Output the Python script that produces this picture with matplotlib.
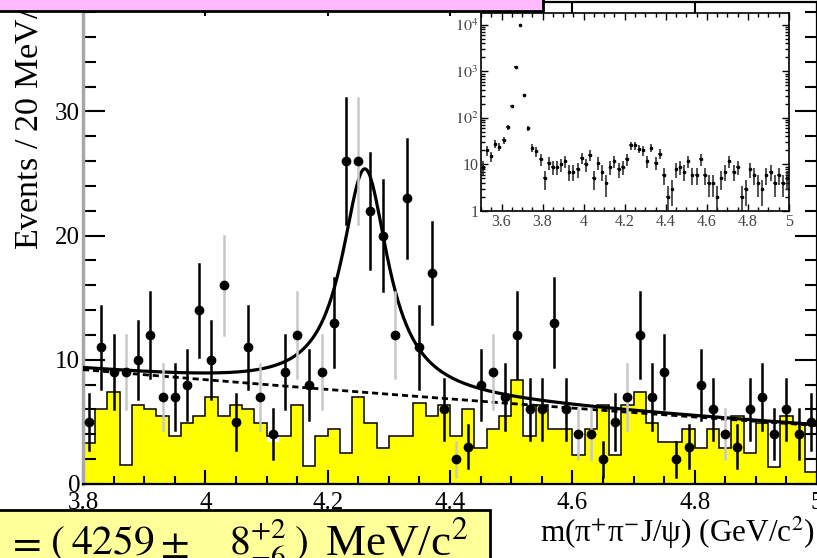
#!/usr/bin/env python
#-*-coding:utf-8-*-
import numpy as np
import matplotlib
matplotlib.use('Agg')
import matplotlib.pyplot as plt
from matplotlib.patches import Rectangle
from matplotlib.ticker import MultipleLocator, FixedLocator, LogLocator, NullFormatter

plt.rcParams['font.family'] = ['Liberation Serif', 'DejaVu Serif']
plt.rcParams['mathtext.fontset'] = 'stix'

W, H = 817, 558

# events per 20 MeV bin, 3.80 - 5.00 GeV
data_counts = [5, 11, 9, 9, 10, 12, 7, 7, 8, 14,
               10, 16, 5, 11, 7, 4, 9, 12, 8, 9,
               13, 26, 26, 22, 20, 12, 23, 11, 17, 6,
               2, 3, 8, 9, 7, 12, 6, 6, 13, 6,
               4, 4, 2, 5, 7, 12, 7, 9, 2, 3,
               8, 6, 4, 3, 6, 7, 4, 6, 4, 5]
# J/psi sideband histogram (outline and fill)
bkg_line = [3.3, 6.0, 7.4, 1.5, 6.4, 6.0, 5.5, 3.9, 4.9, 5.5,
            7.0, 5.5, 6.4, 6.0, 4.9, 3.9, 3.9, 6.4, 1.45, 3.9,
            4.4, 2.5, 7.0, 4.9, 2.9, 3.9, 3.9, 6.5, 5.5, 6.4,
            3.9, 6.0, 2.9, 4.4, 5.5, 8.4, 3.9, 6.4, 4.4, 4.4,
            2.3, 4.4, 6.4, 2.3, 6.4, 7.4, 4.9, 3.4, 3.4, 4.4,
            2.9, 4.4, 2.9, 5.5, 2.5, 4.9, 1.4, 5.5, 4.9, 1.0]
bkg_fill = [3.3, 6.0, 7.4, 1.5, 6.4, 6.0, 5.5, 3.9, 4.9, 5.5,
            7.0, 5.5, 6.4, 6.0, 4.9, 3.4, 3.9, 6.4, 1.45, 3.9,
            4.4, 2.5, 7.0, 4.9, 2.9, 3.9, 3.9, 6.5, 5.5, 6.4,
            3.9, 6.0, 2.9, 4.4, 5.5, 8.4, 3.9, 6.4, 4.4, 4.4,
            2.3, 4.4, 6.4, 2.3, 6.4, 7.4, 4.9, 3.4, 3.4, 4.4,
            2.9, 4.4, 2.9, 5.5, 2.5, 4.9, 1.4, 5.5, 4.9, 1.0]
# inset: bins 3.50 - 3.80 (psi(2S) region), rest same as main
inset_low = [9, 20, 15, 28, 24, 33, 63, 180, 1260, 10000, 310, 60, 23, 19, 13]

# fit result: Breit-Wigner + 2nd order polynomial background
bw_mass = 4.261
bw_width = 0.092
bw_peak = 18.0
bg_c0, bg_c1, bg_c2, bg_ref = 6.85, -3.75, 0.3, 4.4

xtick_vals = [3.8, 4.0, 4.2, 4.4, 4.6, 4.8, 5.0]
xtick_labels = ['3.8', '4', '4.2', '4.4', '4.6', '4.8', '5']
ins_xtick_vals = [3.6, 3.8, 4.0, 4.2, 4.4, 4.6, 4.8, 5.0]
ins_xtick_labels = ['3.6', '3.8', '4', '4.2', '4.4', '4.6', '4.8', '5']
ins_ytick_vals = [1, 10, 100, 1000, 10000]
ins_ytick_labels = ['1', '10', '$10^2$', '$10^3$', '$10^4$']

gray_bins = [3, 6, 11, 14, 17, 19, 22, 25, 30, 33, 40, 41, 44, 52]

edges = np.round(np.arange(3.80, 5.0001, 0.02), 3)
centers = edges[:-1] + 0.01
counts = np.array(data_counts, dtype=float)

fig = plt.figure(figsize=(W / 100.0, H / 100.0), dpi=100)
fig.patch.set_facecolor('white')

ax = fig.add_axes([83.0 / W, 1 - 484.0 / H, 734.0 / W, 482.5 / H])
ax.set_xlim(3.8, 5.0)
ax.set_ylim(0, 38.85)

ax.stairs(bkg_fill, edges, fill=True, color='#ffff00', zorder=1)
ax.stairs(bkg_line, edges, color='black', lw=1.1, zorder=2)

m = np.linspace(3.8, 5.0, 800)
bg = bg_c0 + bg_c1 * (m - bg_ref) + bg_c2 * (m - bg_ref) ** 2
g2 = (bw_width / 2) ** 2
bw = bw_peak * g2 / ((m - bw_mass) ** 2 + g2)
ax.plot(m, bg, color='black', lw=2.0, ls=(0, (2.2, 1.4)), zorder=3)
ax.plot(m, bg + bw, color='black', lw=2.3, zorder=3)

for i, n in enumerate(counts):
    c = '#c8c8c8' if i in gray_bins else 'black'
    e = np.sqrt(n)
    ax.plot([centers[i], centers[i]], [n - e, n + e], color=c, lw=1.8, zorder=4)
ax.plot(centers, counts, 'o', color='black', ms=6, zorder=5)

ax.xaxis.set_major_locator(FixedLocator(xtick_vals))
ax.set_xticklabels(xtick_labels)
ax.xaxis.set_minor_locator(MultipleLocator(0.05))
ax.yaxis.set_major_locator(MultipleLocator(10))
ax.yaxis.set_minor_locator(MultipleLocator(2))
ax.tick_params(which='both', direction='in', top=True, right=True, width=1.5, colors='black')
ax.tick_params(axis='x', which='minor', top=False)
ax.tick_params(axis='x', which='major', length=10, pad=6, labelsize=18)
ax.tick_params(axis='x', which='minor', length=6)
ax.tick_params(axis='y', which='major', length=16, pad=2, labelsize=18)
ax.tick_params(axis='y', which='minor', length=9)
ax.spines['left'].set_color('#a8a8a8')
ax.spines['left'].set_linewidth(2.5)
for s in ['bottom', 'top', 'right']:
    ax.spines[s].set_linewidth(1.6)

fig.text(29.0 / W, 1 - 250.0 / H, 'Events / 20 MeV/c$^2$', rotation=90,
         ha='center', va='bottom', fontsize=24.5)
fig.text(815.0 / W, 1 - 533.0 / H, 'm(\u03c0$^{+}$\u03c0$^{-}$J/\u03c8) (GeV/c$^{2}$)',
         ha='right', va='center', fontsize=22.5)

# inset, wider range on log scale
ins = fig.add_axes([481.0 / W, 1 - 211.0 / H, 308.0 / W, 198.0 / H])
ins.set_facecolor('white')
ins_counts = np.array(inset_low + data_counts, dtype=float)
ins_edges = np.round(np.arange(3.50, 5.0001, 0.02), 3)
ins_centers = ins_edges[:-1] + 0.01
ins.set_yscale('log')
ins.errorbar(ins_centers, ins_counts, yerr=np.sqrt(ins_counts), xerr=0.007, fmt='o', ms=1.6,
             color='black', ecolor='#222222', elinewidth=1.1, capsize=0)
ins.set_xlim(3.5, 5.0)
ins.set_ylim(1, 1.8e4)
ins.xaxis.set_major_locator(FixedLocator(ins_xtick_vals))
ins.set_xticklabels(ins_xtick_labels)
ins.xaxis.set_minor_locator(MultipleLocator(0.05))
ins.yaxis.set_major_locator(FixedLocator(ins_ytick_vals))
ins.set_yticklabels(ins_ytick_labels)
ins.yaxis.set_minor_locator(LogLocator(base=10, subs=np.arange(2, 10)))
ins.yaxis.set_minor_formatter(NullFormatter())
ins.tick_params(which='both', direction='in', top=True, right=True, width=1.0,
                labelsize=11.5, labelcolor='#444444')
ins.tick_params(which='major', length=5, pad=2)
ins.tick_params(which='minor', length=3)
for s in ins.spines.values():
    s.set_linewidth(1.2)

# slide boxes cut by the crop
fig.patches.append(Rectangle((-0.01, 1 - 11.0 / H), 543.0 / W + 0.01, 0.05,
                             transform=fig.transFigure, facecolor='#ffbbff',
                             edgecolor='black', lw=2, zorder=10))
fig.patches.append(Rectangle((-0.01, -0.05), 490.0 / W + 0.01, 0.05 + 48.0 / H,
                             transform=fig.transFigure, facecolor='#ffff99',
                             edgecolor='black', lw=2, zorder=10))
base_y = 1 - 554.0 / H
mass_parts = [(6, r'$=$'), (50, r'$($'), (71, r'$4259$'), (160, r'$\pm$'),
              (229, r'$8^{+2}_{-6}$'), (294, r'$)$')]
for px, s in mass_parts:
    fig.text(px / float(W), base_y, s, ha='left', va='baseline', fontsize=30, zorder=11)
fig.text(325.0 / W, 1 - 556.0 / H, 'MeV/c$^2$', ha='left', va='baseline', fontsize=32.5, zorder=11)

fig.savefig('out.png', dpi=100)
plt.close()
